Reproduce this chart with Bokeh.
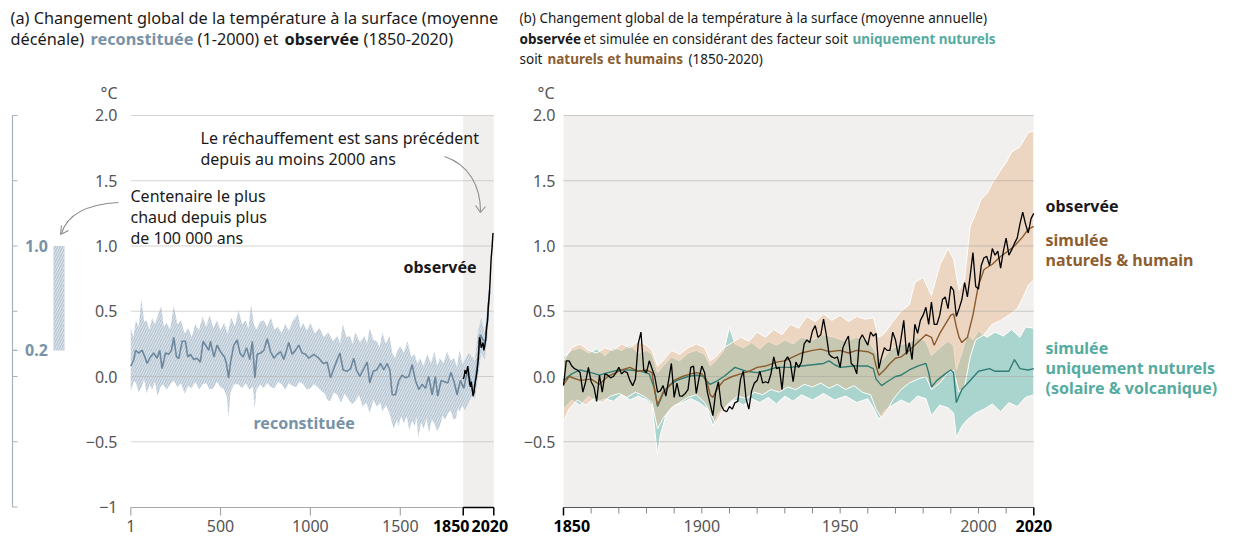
from bokeh.plotting import figure
from bokeh.models import Range1d
from bokeh.core.properties import value
from bokeh.embed import file_html
from bokeh.resources import INLINE

# ---------------- DATA ----------------
# Panel (a): reconstructed decadal GMST (years 1-2000)
rec_years = [1, 18, 27, 45, 64, 82, 92, 110, 128, 147, 162, 175, 194, 212, 227, 240, 255, 268, 287, 305,
             318, 333, 351, 370, 388, 403, 422, 435, 444, 463, 481, 500, 522, 533, 545, 556, 574, 593, 608, 626,
             645, 663, 677, 691, 704, 723, 741, 760, 778, 797, 815, 834, 852, 880, 898, 917, 935, 954, 973, 991,
             1019, 1047, 1071, 1093, 1112, 1130, 1149, 1164, 1182, 1204, 1223, 1241, 1256, 1275, 1297, 1316, 1330, 1349, 1368, 1390,
             1408, 1427, 1442, 1455, 1473, 1492, 1510, 1529, 1547, 1566, 1584, 1603, 1621, 1640, 1658, 1677, 1695, 1708, 1727, 1745,
             1764, 1782, 1801, 1816, 1834, 1853, 1871, 1890, 1908, 1927, 1945, 1960, 1973, 1986, 1997]
rec_vals = [0.08, 0.13, 0.20, 0.18, 0.20, 0.14, 0.10, 0.15, 0.18, 0.14, 0.20, 0.06, 0.18, 0.17, 0.20, 0.30, 0.15, 0.14, 0.27, 0.27,
            0.15, 0.17, 0.13, 0.14, 0.11, 0.27, 0.23, 0.20, 0.27, 0.15, 0.24, 0.19, 0.15, 0.10, -0.01, 0.11, 0.24, 0.28, 0.18, 0.15,
            0.22, 0.13, 0.27, -0.01, 0.17, 0.18, 0.20, 0.29, 0.19, 0.14, 0.17, 0.19, 0.13, 0.26, 0.17, 0.20, 0.24, 0.18, 0.17, 0.14,
            0.17, 0.14, 0.10, 0.11, -0.01, 0.06, 0.13, 0.18, 0.05, 0.04, 0.06, 0.14, 0.05, 0.00, 0.06, 0.11, -0.05, 0.04, 0.05, 0.10,
            0.05, 0.10, 0.05, -0.14, -0.14, -0.03, 0.01, -0.01, 0.00, 0.09, -0.03, -0.10, -0.06, -0.09, 0.00, -0.14, 0.00, -0.15, -0.03, -0.04,
            -0.05, 0.03, -0.05, -0.14, -0.03, -0.09, 0.03, -0.03, -0.13, 0.08, 0.32, 0.28, 0.27, 0.46, 0.66]

rec_upper = [(1, 0.37), (15, 0.30), (30, 0.43), (45, 0.38), (60, 0.59), (75, 0.42), (90, 0.43), (105, 0.36), (120, 0.45),
             (135, 0.40), (150, 0.46), (170, 0.54), (185, 0.38), (200, 0.41), (220, 0.36), (240, 0.54), (260, 0.40),
             (280, 0.43), (300, 0.33), (320, 0.37), (340, 0.30), (360, 0.40), (380, 0.35), (400, 0.46), (420, 0.38),
             (440, 0.47), (460, 0.37), (480, 0.43), (500, 0.35), (520, 0.41), (540, 0.33), (560, 0.45), (580, 0.38),
             (600, 0.51), (620, 0.40), (640, 0.43), (655, 0.36), (670, 0.55), (685, 0.40), (700, 0.36), (720, 0.42),
             (740, 0.43), (760, 0.38), (780, 0.45), (800, 0.36), (820, 0.38), (840, 0.33), (860, 0.40), (880, 0.35),
             (900, 0.42), (930, 0.48), (945, 0.37), (960, 0.41), (980, 0.35), (1000, 0.41), (1025, 0.33), (1050, 0.37),
             (1075, 0.30), (1100, 0.34), (1125, 0.27), (1150, 0.31), (1165, 0.25), (1180, 0.40), (1200, 0.30),
             (1220, 0.31), (1235, 0.25), (1250, 0.34), (1275, 0.26), (1300, 0.31), (1315, 0.25), (1330, 0.37),
             (1350, 0.28), (1370, 0.27), (1385, 0.22), (1400, 0.34), (1420, 0.25), (1440, 0.31), (1455, 0.18),
             (1470, 0.14), (1485, 0.20), (1500, 0.23), (1520, 0.18), (1540, 0.27), (1560, 0.15), (1580, 0.17),
             (1595, 0.10), (1610, 0.14), (1630, 0.08), (1650, 0.17), (1670, 0.10), (1690, 0.19), (1705, 0.08),
             (1720, 0.14), (1740, 0.10), (1760, 0.19), (1780, 0.12), (1800, 0.14), (1815, 0.07), (1830, 0.20),
             (1845, 0.10), (1860, 0.13), (1880, 0.18), (1900, 0.15), (1915, 0.12), (1930, 0.33), (1950, 0.45),
             (1970, 0.33), (1985, 0.56), (2000, 0.75)]
rec_lower = [(1, -0.11), (20, -0.03), (30, -0.05), (45, -0.12), (60, -0.08), (75, -0.02), (90, -0.13), (105, -0.06),
             (120, -0.10), (135, -0.04), (150, -0.15), (165, -0.08), (180, -0.06), (200, -0.10), (220, -0.06),
             (240, -0.03), (260, -0.08), (280, -0.05), (300, -0.13), (320, -0.07), (340, -0.09), (360, -0.04),
             (380, -0.10), (400, -0.06), (420, -0.05), (440, -0.10), (460, -0.09), (480, -0.04), (500, -0.08),
             (520, -0.10), (535, -0.15), (545, -0.31), (555, -0.12), (575, -0.06), (600, -0.06), (620, -0.09),
             (640, -0.05), (660, -0.10), (680, -0.08), (690, -0.24), (700, -0.10), (720, -0.06), (740, -0.09),
             (760, -0.05), (780, -0.08), (800, -0.09), (820, -0.04), (840, -0.06), (860, -0.10), (880, -0.05),
             (900, -0.07), (920, -0.08), (940, -0.04), (960, -0.06), (980, -0.10), (1000, -0.09), (1020, -0.06),
             (1040, -0.08), (1060, -0.11), (1080, -0.13), (1095, -0.18), (1110, -0.19), (1130, -0.12), (1150, -0.14),
             (1170, -0.20), (1190, -0.13), (1210, -0.17), (1230, -0.21), (1250, -0.19), (1270, -0.14), (1290, -0.23),
             (1310, -0.20), (1330, -0.28), (1350, -0.18), (1370, -0.23), (1390, -0.20), (1400, -0.27), (1420, -0.22),
             (1440, -0.28), (1455, -0.36), (1465, -0.40), (1480, -0.33), (1490, -0.38), (1505, -0.30), (1520, -0.36),
             (1535, -0.30), (1550, -0.41), (1565, -0.34), (1580, -0.38), (1590, -0.31), (1600, -0.47), (1615, -0.35),
             (1630, -0.40), (1645, -0.32), (1660, -0.43), (1675, -0.33), (1690, -0.36), (1705, -0.42), (1720, -0.38),
             (1735, -0.30), (1750, -0.33), (1765, -0.28), (1780, -0.26), (1795, -0.33), (1810, -0.32), (1820, -0.24),
             (1830, -0.27), (1845, -0.22), (1860, -0.26), (1880, -0.20), (1900, -0.15), (1915, -0.17), (1930, -0.03),
             (1950, 0.18), (1970, 0.13), (1985, 0.31), (2000, 0.66)]

# Panel (a): observed decadal (1850-2020)
obs_dec_years = [1850, 1855, 1860, 1865, 1870, 1875, 1880, 1885, 1890, 1895, 1900, 1905, 1910, 1915, 1920, 1925,
                 1930, 1935, 1940, 1945, 1950, 1955, 1960, 1965, 1970, 1975, 1980, 1985, 1990, 1995, 2000, 2005,
                 2010, 2015, 2017]
obs_dec_vals = [-0.02, 0.00, 0.05, 0.02, 0.04, 0.08, 0.03, -0.05, -0.08, -0.04, -0.10, -0.15, -0.12, -0.06, -0.02, 0.02,
                0.08, 0.15, 0.30, 0.28, 0.22, 0.24, 0.26, 0.20, 0.24, 0.28, 0.38, 0.42, 0.55, 0.62, 0.75, 0.90,
                0.98, 1.09, 1.10]

# Panel (b): observed annual (1850-2020)
obs_years = list(range(1850, 2021))
obs_vals = [-0.07, 0.12, 0.12, 0.08, 0.06, 0.05, 0.03, -0.12, -0.04, 0.07,
            -0.04, -0.08, -0.19, 0.01, -0.12, 0.02, 0.01, -0.01, 0.00, 0.03,
            0.07, 0.02, 0.04, 0.03, -0.03, -0.07, -0.02, 0.25, 0.34, 0.05,
            0.03, 0.12, 0.06, 0.00, -0.12, -0.11, -0.07, -0.15, -0.03, 0.10,
            -0.16, -0.05, -0.15, -0.15, -0.13, -0.10, 0.07, 0.08, -0.13, -0.01,
            0.08, 0.03, -0.12, -0.21, -0.30, -0.12, -0.04, -0.22, -0.26, -0.27,
            -0.23, -0.25, -0.20, -0.19, -0.02, 0.04, -0.17, -0.25, -0.11, -0.05,
            -0.03, 0.04, -0.05, -0.04, -0.05, 0.02, 0.15, 0.06, 0.07, -0.10,
            0.12, 0.15, 0.11, -0.04, 0.11, 0.07, 0.11, 0.25, 0.28, 0.26,
            0.35, 0.39, 0.30, 0.32, 0.44, 0.32, 0.17, 0.15, 0.14, 0.15,
            0.07, 0.22, 0.27, 0.31, 0.10, 0.08, 0.02, 0.28, 0.32, 0.28,
            0.24, 0.34, 0.31, 0.33, 0.06, 0.15, 0.22, 0.20, 0.20, 0.34,
            0.28, 0.16, 0.29, 0.43, 0.17, 0.26, 0.13, 0.40, 0.33, 0.43,
            0.47, 0.53, 0.40, 0.57, 0.40, 0.40, 0.47, 0.59, 0.61, 0.52,
            0.69, 0.66, 0.46, 0.52, 0.59, 0.72, 0.61, 0.77, 0.95, 0.69,
            0.67, 0.85, 0.91, 0.92, 0.85, 0.98, 0.93, 0.96, 0.83, 0.96,
            1.06, 0.93, 0.97, 1.02, 1.06, 1.17, 1.26, 1.17, 1.10, 1.21,
            1.25]

# Panel (b): simulated, natural + human (mean and range)
hn_mean = [(1850, -0.06), (1852, 0.00), (1856, -0.03), (1860, -0.02), (1863, -0.06), (1866, 0.00), (1868, 0.02),
           (1871, 0.05), (1874, 0.07), (1877, 0.04), (1880, 0.05), (1882, 0.03), (1883, -0.12), (1884, -0.22),
           (1886, -0.12), (1888, -0.08), (1890, -0.03), (1893, 0.00), (1896, 0.02), (1898, 0.03), (1900, 0.02),
           (1902, -0.05), (1903, -0.14), (1904, -0.16), (1906, -0.08), (1908, -0.03), (1911, 0.00), (1914, 0.02),
           (1917, 0.04), (1920, 0.07), (1923, 0.08), (1927, 0.11), (1930, 0.12), (1933, 0.15), (1936, 0.18),
           (1940, 0.20), (1943, 0.21), (1946, 0.19), (1950, 0.20), (1953, 0.18), (1956, 0.20), (1960, 0.19),
           (1962, 0.17), (1963, 0.08), (1964, 0.01), (1966, 0.05), (1968, 0.10), (1970, 0.14), (1972, 0.15),
           (1975, 0.20), (1978, 0.26), (1981, 0.32), (1983, 0.30), (1984, 0.24), (1986, 0.33), (1988, 0.40),
           (1990, 0.47), (1991, 0.48), (1992, 0.38), (1993, 0.30), (1994, 0.26), (1996, 0.30), (1998, 0.47),
           (2000, 0.70), (2002, 0.82), (2005, 0.86), (2008, 0.92), (2010, 0.95), (2013, 1.00), (2016, 1.07),
           (2018, 1.13), (2020, 1.15)]
hn_upper = [(1850, 0.12), (1853, 0.22), (1856, 0.25), (1859, 0.20), (1862, 0.18), (1865, 0.22), (1868, 0.20),
            (1871, 0.25), (1874, 0.22), (1877, 0.27), (1880, 0.24), (1882, 0.20), (1884, 0.08), (1886, 0.12),
            (1889, 0.20), (1892, 0.17), (1895, 0.22), (1898, 0.25), (1901, 0.22), (1903, 0.12), (1905, 0.15),
            (1908, 0.22), (1911, 0.26), (1914, 0.30), (1917, 0.27), (1920, 0.34), (1923, 0.30), (1926, 0.36),
            (1929, 0.32), (1932, 0.40), (1935, 0.37), (1938, 0.46), (1941, 0.42), (1944, 0.48), (1947, 0.43),
            (1950, 0.47), (1953, 0.42), (1956, 0.46), (1959, 0.44), (1962, 0.45), (1964, 0.30), (1966, 0.33),
            (1969, 0.42), (1972, 0.50), (1975, 0.55), (1977, 0.72), (1980, 0.76), (1983, 0.62), (1986, 0.85),
            (1989, 0.98), (1991, 0.90), (1993, 0.66), (1995, 0.75), (1997, 1.15), (1999, 1.25), (2001, 1.36),
            (2003, 1.40), (2005, 1.48), (2008, 1.58), (2010, 1.64), (2012, 1.72), (2015, 1.76), (2018, 1.87),
            (2020, 1.88)]
hn_lower = [(1850, -0.35), (1852, -0.25), (1855, -0.18), (1858, -0.22), (1861, -0.17), (1864, -0.20), (1867, -0.15),
            (1870, -0.13), (1873, -0.16), (1876, -0.12), (1879, -0.15), (1882, -0.20), (1884, -0.40), (1886, -0.32),
            (1889, -0.24), (1892, -0.20), (1895, -0.16), (1898, -0.14), (1901, -0.20), (1903, -0.28), (1905, -0.36),
            (1907, -0.28), (1910, -0.20), (1913, -0.15), (1916, -0.17), (1919, -0.12), (1922, -0.14), (1925, -0.10),
            (1928, -0.12), (1931, -0.08), (1934, -0.10), (1937, -0.06), (1940, -0.08), (1943, -0.05), (1946, -0.09),
            (1949, -0.06), (1952, -0.10), (1955, -0.07), (1958, -0.12), (1961, -0.14), (1963, -0.25), (1965, -0.32),
            (1967, -0.26), (1969, -0.18), (1972, -0.10), (1975, -0.05), (1978, -0.02), (1981, 0.00), (1983, -0.10),
            (1986, -0.05), (1989, 0.03), (1991, 0.05), (1993, -0.12), (1995, -0.08), (1997, 0.15), (1999, 0.28),
            (2002, 0.32), (2005, 0.40), (2008, 0.43), (2011, 0.47), (2014, 0.52), (2016, 0.60), (2018, 0.70),
            (2020, 0.74)]

# Panel (b): simulated, natural only (mean and range)
nat_mean = [(1850, -0.03), (1853, 0.02), (1856, 0.05), (1860, 0.03), (1863, 0.01), (1866, 0.03), (1870, 0.05),
            (1874, 0.05), (1878, 0.04), (1881, 0.02), (1883, -0.10), (1884, -0.23), (1886, -0.13), (1888, -0.07),
            (1891, -0.03), (1895, 0.00), (1898, 0.01), (1901, 0.00), (1902, -0.04), (1903, -0.06), (1905, -0.04),
            (1908, 0.00), (1912, 0.07), (1916, 0.04), (1920, 0.03), (1924, 0.05), (1927, 0.07), (1932, 0.07),
            (1936, 0.08), (1940, 0.09), (1944, 0.10), (1946, 0.12), (1948, 0.09), (1950, 0.07), (1955, 0.08),
            (1960, 0.08), (1962, 0.06), (1963, -0.02), (1965, -0.07), (1967, -0.04), (1970, 0.00), (1972, 0.01),
            (1975, 0.05), (1978, 0.08), (1981, 0.10), (1982, 0.03), (1983, -0.08), (1985, -0.03), (1988, 0.02),
            (1990, 0.05), (1991, 0.03), (1992, -0.20), (1994, -0.10), (1997, -0.03), (2000, 0.04), (2004, 0.06),
            (2006, 0.04), (2011, 0.04), (2013, 0.13), (2015, 0.06), (2018, 0.05), (2020, 0.06)]
nat_upper = [(1850, 0.15), (1853, 0.20), (1856, 0.22), (1859, 0.18), (1862, 0.21), (1865, 0.16), (1868, 0.22),
             (1871, 0.20), (1874, 0.24), (1877, 0.18), (1880, 0.20), (1882, 0.17), (1884, 0.03), (1886, 0.08),
             (1889, 0.15), (1892, 0.12), (1895, 0.18), (1898, 0.20), (1901, 0.17), (1903, 0.08), (1905, 0.12),
             (1908, 0.20), (1910, 0.38), (1912, 0.25), (1915, 0.22), (1918, 0.26), (1921, 0.21), (1924, 0.27),
             (1927, 0.24), (1930, 0.28), (1933, 0.25), (1936, 0.30), (1940, 0.28), (1944, 0.32), (1948, 0.30),
             (1952, 0.27), (1956, 0.30), (1960, 0.28), (1963, 0.18), (1965, 0.12), (1968, 0.20), (1971, 0.24),
             (1975, 0.26), (1978, 0.30), (1981, 0.27), (1983, 0.16), (1986, 0.22), (1989, 0.27), (1991, 0.24),
             (1992, 0.05), (1994, 0.18), (1996, 0.33), (1998, 0.28), (2000, 0.35), (2003, 0.30), (2006, 0.34),
             (2009, 0.31), (2012, 0.36), (2015, 0.30), (2017, 0.38), (2020, 0.37)]
nat_lower = [(1850, -0.25), (1853, -0.18), (1856, -0.22), (1859, -0.15), (1862, -0.20), (1865, -0.17), (1868, -0.19),
             (1871, -0.14), (1874, -0.18), (1877, -0.15), (1880, -0.18), (1882, -0.22), (1884, -0.60), (1885, -0.45),
             (1887, -0.30), (1890, -0.22), (1893, -0.20), (1896, -0.17), (1899, -0.20), (1902, -0.25), (1904, -0.38),
             (1906, -0.28), (1909, -0.22), (1912, -0.18), (1915, -0.22), (1918, -0.17), (1921, -0.20), (1924, -0.16),
             (1927, -0.21), (1930, -0.15), (1933, -0.19), (1936, -0.14), (1940, -0.18), (1944, -0.13), (1948, -0.18),
             (1952, -0.15), (1956, -0.20), (1960, -0.17), (1962, -0.24), (1964, -0.33), (1966, -0.26), (1969, -0.22),
             (1972, -0.18), (1975, -0.21), (1978, -0.15), (1981, -0.17), (1983, -0.30), (1986, -0.22), (1989, -0.24),
             (1991, -0.28), (1992, -0.47), (1994, -0.38), (1996, -0.33), (1999, -0.28), (2002, -0.25), (2005, -0.21),
             (2008, -0.27), (2011, -0.20), (2014, -0.23), (2017, -0.16), (2020, -0.14)]

# Axes / ticks
y_ticks = [2.0, 1.5, 1.0, 0.5, 0.0, -0.5, -1.0]
y_labels_a = ["2.0", "1.5", "1.0", "0.5", "0.0", "\u22120.5", "\u22121"]
y_labels_b = ["2.0", "1.5", "1.0", "0.5", "0.0", "\u22120.5", ""]
grid_vals = [2.0, 1.5, 1.0, 0.5, 0.0, -0.5]
a_ticks = [1, 500, 1000, 1500]
a_bold_ticks = [1850, 2020]
b_minor_ticks = list(range(1860, 2020, 10))
b_labels = [1900, 1950, 2000]
b_bold_ticks = [1850, 2020]
mini_ticks = [2.0, 1.5, 1.0, 0.5, 0.2, 0.0, -0.5, -1.0]
mini_range = [0.2, 1.0]

# ---------------- STYLE ----------------
FONT = value("Noto Sans")
TXT = "#1a1a1a"
TICK = "#555555"
BLUE = "#7892a8"
BROWN = "#8c5e30"
TEAL = "#55ab9f"
TSA = "16.3px"    # title (a)
TSB = "13.5px"    # title (b)
LS = "16px"       # labels

W, H = 1234, 537
p = figure(width=W, height=H, x_range=Range1d(0, W), y_range=Range1d(H, 0),
           min_border=0, min_border_left=0, min_border_right=0, min_border_top=0, min_border_bottom=0,
           x_axis_location=None, y_axis_location=None, toolbar_location=None,
           output_backend="svg", outline_line_color=None)
p.extra_x_ranges = {"a": Range1d(-723.7, 6139.8), "b": Range1d(1646.49, 2092.55)}
p.extra_y_ranges = {"t": Range1d(-1.2337, 2.8812)}
p.background_fill_color = "white"
p.border_fill_color = "white"
p.xgrid.visible = False
p.ygrid.visible = False


def txt(x, y, s, color=TXT, bold=False, size=LS, align="left", xr="default", yr="default"):
    p.text(x=[x], y=[y], text=[s], text_font=FONT, text_font_size=size, text_color=color,
           text_font_style="bold" if bold else "normal", text_align=align, text_baseline="middle",
           x_range_name=xr, y_range_name=yr)


HATCH = dict(fill_color="#b7c6d3", hatch_pattern="/", hatch_color="white",
             hatch_weight=0.8, hatch_scale=5, hatch_alpha=0.8)

# ---- backgrounds
p.quad(left=[1850], right=[2020], top=[2.0], bottom=[-1.0], x_range_name="a", y_range_name="t",
       fill_color="#f1efed", line_color=None)
p.quad(left=[1850], right=[2020], top=[2.0], bottom=[-1.0], x_range_name="b", y_range_name="t",
       fill_color="#f2f0ee", line_color=None)

# ---- panel (a) band
ru_x = [t[0] for t in rec_upper]; ru_y = [t[1] for t in rec_upper]
rl_x = [t[0] for t in rec_lower]; rl_y = [t[1] for t in rec_lower]
p.patch(ru_x + rl_x[::-1], ru_y + rl_y[::-1], x_range_name="a", y_range_name="t", line_color=None, **HATCH)

# ---- panel (b) bands
nu_x = [t[0] for t in nat_upper]; nu_y = [t[1] for t in nat_upper]
nl_x = [t[0] for t in nat_lower]; nl_y = [t[1] for t in nat_lower]
p.patch(nu_x + nl_x[::-1], nu_y + nl_y[::-1], x_range_name="b", y_range_name="t",
        fill_color="#aad5cf", line_color="white", line_width=1)
hu_x = [t[0] for t in hn_upper]; hu_y = [t[1] for t in hn_upper]
hl_x = [t[0] for t in hn_lower]; hl_y = [t[1] for t in hn_lower]
p.patch(hu_x + hl_x[::-1], hu_y + hl_y[::-1], x_range_name="b", y_range_name="t",
        fill_color="#e5b990", fill_alpha=0.47, line_color="white", line_width=1)

# ---- gridlines
p.segment(x0=[1] * len(grid_vals), x1=[2020] * len(grid_vals), y0=grid_vals, y1=grid_vals,
          x_range_name="a", y_range_name="t", line_color="#b5b2ae", line_alpha=0.55, line_width=1)
p.segment(x0=[1850] * len(grid_vals), x1=[2020] * len(grid_vals), y0=grid_vals, y1=grid_vals,
          x_range_name="b", y_range_name="t", line_color="#a9a5a1", line_alpha=0.55, line_width=1)

# ---- lines
p.line(rec_years, rec_vals, x_range_name="a", y_range_name="t", line_color="#6d889e", line_width=1.6)
p.line(obs_dec_years, obs_dec_vals, x_range_name="a", y_range_name="t", line_color="black", line_width=1.4)

p.line([t[0] for t in nat_mean], [t[1] for t in nat_mean], x_range_name="b", y_range_name="t",
       line_color="#2f7d75", line_width=1.4)
p.line([t[0] for t in hn_mean], [t[1] for t in hn_mean], x_range_name="b", y_range_name="t",
       line_color="#8a5a2c", line_width=1.4)
p.line(obs_years, obs_vals, x_range_name="b", y_range_name="t", line_color="black", line_width=1.3)

# ---- panel (a) x-axis
p.segment(x0=[1], x1=[1850], y0=[507], y1=[507], x_range_name="a", line_color="#a8a8a8", line_width=1.2)
p.segment(x0=[1850], x1=[2020], y0=[507], y1=[507], x_range_name="a", line_color="black", line_width=1.5)
p.segment(x0=a_ticks, x1=a_ticks, y0=[507] * 4, y1=[515] * 4, x_range_name="a", line_color="#a8a8a8", line_width=1.2)
p.segment(x0=a_bold_ticks, x1=a_bold_ticks, y0=[507] * 2, y1=[515] * 2, x_range_name="a", line_color="black", line_width=1.5)
for t in a_ticks:
    txt(t, 525, str(t), color=TICK, align="center", xr="a")
txt(469, 525, str(a_bold_ticks[0]), color="black", bold=True, align="right")
txt(471, 525, str(a_bold_ticks[1]), color="black", bold=True, align="left")

# ---- panel (b) x-axis
p.segment(x0=[1850], x1=[2020], y0=[507], y1=[507], x_range_name="b", line_color="#555555", line_width=1.2)
p.segment(x0=b_minor_ticks, x1=b_minor_ticks, y0=[507] * len(b_minor_ticks), y1=[513] * len(b_minor_ticks),
          x_range_name="b", line_color="#888888", line_width=1)
p.segment(x0=b_bold_ticks, x1=b_bold_ticks, y0=[507] * 2, y1=[515] * 2, x_range_name="b", line_color="black", line_width=1.5)
for t in b_labels:
    txt(t, 525, str(t), color=TICK, align="center", xr="b")
txt(553, 525, str(b_bold_ticks[0]), color="black", bold=True, align="left")
txt(b_bold_ticks[1], 525, str(b_bold_ticks[1]), color="black", bold=True, align="center", xr="b")

# ---- y tick labels
for v, s in zip(y_ticks, y_labels_a):
    txt(117, v, s, color=TICK, align="right", yr="t")
for v, s in zip(y_ticks, y_labels_b):
    if s:
        txt(555, v, s, color=TICK, align="right", yr="t")
txt(117, 92, "\u00b0C", color=TICK, align="right")
txt(554, 92, "\u00b0C", color=TICK, align="right")

# ---- mini axis (left)
p.segment(x0=[12], x1=[12], y0=[2.0], y1=[-1.0], y_range_name="t", line_color="#a9b2bb", line_width=1.2)
p.segment(x0=[12] * len(mini_ticks), x1=[17] * len(mini_ticks), y0=mini_ticks, y1=mini_ticks,
          y_range_name="t", line_color="#a9b2bb", line_width=1.2)
p.quad(left=[53], right=[64], bottom=[mini_range[0]], top=[mini_range[1]], y_range_name="t",
       line_color=None, **HATCH)
txt(36, mini_range[1], "1.0", color=BLUE, bold=True, align="center", yr="t")
txt(36, mini_range[0], "0.2", color=BLUE, bold=True, align="center", yr="t")

# ---- titles
txt(10, 17, "(a) Changement global de la temp\u00e9rature \u00e0 la surface (moyenne", size=TSA)
txt(10, 38, "d\u00e9c\u00e9nale)", size=TSA)
txt(90, 38, "reconstitu\u00e9e", color=BLUE, bold=True, size=TSA)
txt(197, 38, "(1-2000) et", size=TSA)
txt(284, 38, "observ\u00e9e", bold=True, size=TSA)
txt(363, 38, "(1850-2020)", size=TSA)

txt(519, 17, "(b) Changement global de la temp\u00e9rature \u00e0 la surface (moyenne annuelle)", size=TSB)
txt(519, 38, "observ\u00e9e", bold=True, size=TSB)
txt(583, 38, "et simul\u00e9e en consid\u00e9rant des facteur soit", size=TSB)
txt(852, 38, "uniquement nuturels", color=TEAL, bold=True, size=TSB)
txt(519, 58, "soit", size=TSB)
txt(547, 58, "naturels et humains", color=BROWN, bold=True, size=TSB)
txt(688, 58, "(1850-2020)", size=TSB)

# ---- annotations panel (a)
txt(200, 137, "Le r\u00e9chauffement est sans pr\u00e9c\u00e9dent")
txt(200, 158, "depuis au moins 2000 ans")
p.bezier(x0=[444], y0=[156], x1=[480], y1=[211], cx0=[468], cy0=[164], cx1=[480], cy1=[185],
         line_color="#8c8c8c", line_width=1.1)
p.segment(x0=[480, 480], y0=[212, 212], x1=[475, 485], y1=[205, 206], line_color="#8c8c8c", line_width=1.1)

txt(130, 195, "Centenaire le plus")
txt(130, 216, "chaud depuis plus")
txt(130, 237, "de 100 000 ans")
p.bezier(x0=[118], y0=[202], x1=[61], y1=[233], cx0=[84], cy0=[204], cx1=[66], cy1=[216],
         line_color="#8c8c8c", line_width=1.1)
p.segment(x0=[60, 60], y0=[234, 234], x1=[61, 68], y1=[225, 230], line_color="#8c8c8c", line_width=1.1)

txt(403, 266, "observ\u00e9e", bold=True)
txt(253, 422, "reconstitu\u00e9e", color=BLUE, bold=True)

# ---- right labels panel (b)
txt(1045, 205, "observ\u00e9e", bold=True)
txt(1045, 239, "simul\u00e9e", color=BROWN, bold=True)
txt(1045, 259, "naturels & humain", color=BROWN, bold=True)
txt(1045, 347, "simul\u00e9e", color=TEAL, bold=True)
txt(1045, 367, "uniquement nuturels", color=TEAL, bold=True)
txt(1045, 387, "(solaire & volcanique)", color=TEAL, bold=True)

open("out.html", "w").write(file_html(p, INLINE))
